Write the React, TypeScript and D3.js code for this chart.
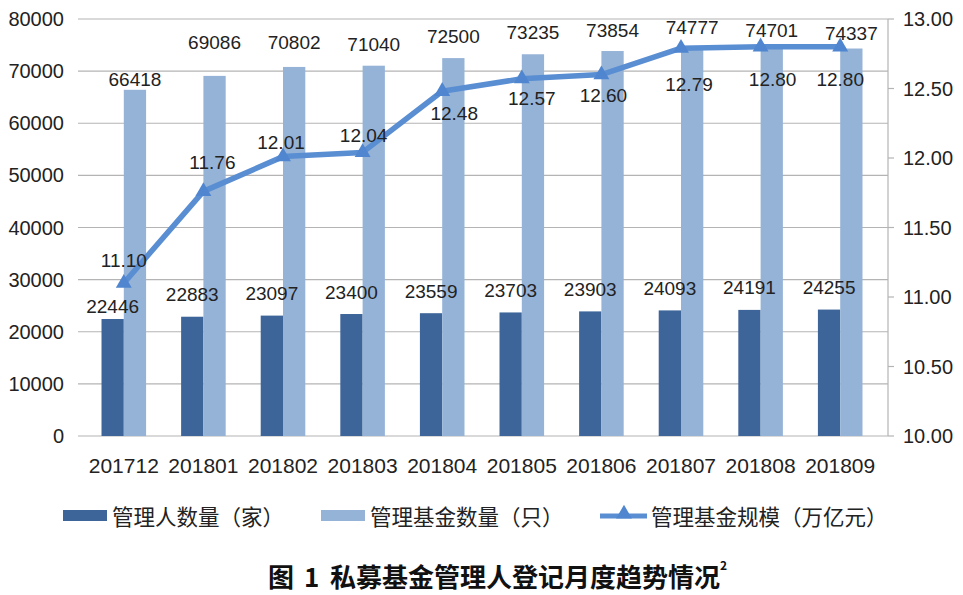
import React from "react";
import * as d3 from "d3";

const categories = ["201712", "201801", "201802", "201803", "201804", "201805", "201806", "201807", "201808", "201809"];
const managers = [22446, 22883, 23097, 23400, 23559, 23703, 23903, 24093, 24191, 24255];
const funds = [66418, 69086, 70802, 71040, 72500, 73235, 73854, 74777, 74701, 74337];
const scale = [11.1, 11.76, 12.01, 12.04, 12.48, 12.57, 12.6, 12.79, 12.8, 12.8];
const leftTicks = [0, 10000, 20000, 30000, 40000, 50000, 60000, 70000, 80000];
const rightTicks = [10, 10.5, 11, 11.5, 12, 12.5, 13];
const legendLabels = ["管理人数量（家）", "管理基金数量（只）", "管理基金规模（万亿元）"];
const titleParts = ["图", "1", "私募基金管理人登记月度趋势情况"];

// label placement (style only)
const darkLabelDy = [-13, -22, -22, -22, -22, -22, -22, -22, -22, -22];
const lightLabelDy = [-10, -33, -24, -21, -22, -22, -21, -19, -16, -15];
const lineLabelDx = [0, 9, -2, 1, 12, 10, 2, 8, 12, 0];
const lineLabelDy = [-23, -29, -14, -17, 22, 20, 21, 36, 33, 33];

const DARK = "#3d6599";
const LIGHT = "#95b3d7";
const LINE = "#5a8ed3";
const GRID = "#b4b4b4";
const NUM_FONT = "'Liberation Sans', Arial, sans-serif";
const CJK_FONT = "'Noto Sans CJK SC', sans-serif";

export default function App() {
  const W = 963, H = 595;
  const top = 19, bottom = 436;
  const x = d3.scaleBand<string>().domain(categories).range([84, 880]).padding(0);
  const yL = d3.scaleLinear().domain([0, 80000]).range([bottom, top]);
  const yR = d3.scaleLinear().domain([10, 13]).range([bottom, top]);
  const bw = x.bandwidth() * 0.28;
  const cx = (c: string) => (x(c) as number) + x.bandwidth() / 2;

  const line = d3.line<number>().x((_, i) => cx(categories[i])).y((d) => yR(d));
  const tri = d3.symbol().type(d3.symbolTriangle).size(110)();

  return (
    <svg width={W} height={H} style={{ display: "block", position: "absolute", left: 0, top: 0, background: "#fff" }}>
      <rect x={0} y={0} width={W} height={H} fill="#fff" />
      {leftTicks.map((t) => (
        <line key={t} x1={78} x2={888} y1={yL(t)} y2={yL(t)} stroke={GRID} strokeWidth={1.2} />
      ))}
      <line x1={888} x2={888} y1={top} y2={bottom} stroke={GRID} strokeWidth={1.2} />
      {rightTicks.map((t) => (
        <line key={"rt" + t} x1={888} x2={894} y1={yR(t)} y2={yR(t)} stroke={GRID} strokeWidth={1.2} />
      ))}
      {leftTicks.map((t) => (
        <text key={"l" + t} x={64} y={yL(t)} textAnchor="end" dominantBaseline="central" fontFamily={NUM_FONT} fontSize={20} fill="#222">
          {t}
        </text>
      ))}
      {rightTicks.map((t) => (
        <text key={"r" + t} x={903} y={yR(t)} textAnchor="start" dominantBaseline="central" fontFamily={NUM_FONT} fontSize={20} fill="#222">
          {d3.format(".2f")(t)}
        </text>
      ))}
      {categories.map((c, i) => (
        <g key={c}>
          <rect x={cx(c) - bw} y={yL(managers[i])} width={bw} height={bottom - yL(managers[i])} fill={DARK} />
          <rect x={cx(c)} y={yL(funds[i])} width={bw} height={bottom - yL(funds[i])} fill={LIGHT} />
        </g>
      ))}
      {categories.map((c, i) => (
        <g key={"bl" + c} fontFamily={NUM_FONT} fontSize={19} fill="#222" textAnchor="middle">
          <text x={cx(c) - bw / 2} y={yL(managers[i]) + darkLabelDy[i]} dominantBaseline="central">{managers[i]}</text>
          <text x={cx(c) + bw / 2} y={yL(funds[i]) + lightLabelDy[i]} dominantBaseline="central">{funds[i]}</text>
        </g>
      ))}
      <path d={line(scale) || ""} fill="none" stroke={LINE} strokeWidth={5.5} strokeLinejoin="round" />
      {scale.map((v, i) => (
        <path key={"m" + i} d={tri || ""} transform={`translate(${cx(categories[i])},${yR(v)})`} fill="#4f86cf" />
      ))}
      {scale.map((v, i) => (
        <text key={"ll" + i} x={cx(categories[i]) + lineLabelDx[i]} y={yR(v) + lineLabelDy[i]} textAnchor="middle" dominantBaseline="central" fontFamily={NUM_FONT} fontSize={19} fill="#222">
          {d3.format(".2f")(v)}
        </text>
      ))}
      {categories.map((c) => (
        <text key={"x" + c} x={cx(c)} y={465} textAnchor="middle" dominantBaseline="central" fontFamily={NUM_FONT} fontSize={21} fill="#222">
          {c}
        </text>
      ))}
      <rect x={63} y={510} width={44} height={11} fill={DARK} />
      <text x={112} y={515} dominantBaseline="central" fontFamily={CJK_FONT} fontSize={21.5} fill="#222">{legendLabels[0]}</text>
      <rect x={321} y={510} width={44} height={11} fill={LIGHT} />
      <text x={370} y={515} dominantBaseline="central" fontFamily={CJK_FONT} fontSize={21.5} fill="#222">{legendLabels[1]}</text>
      <line x1={600} x2={647} y1={516} y2={516} stroke={LINE} strokeWidth={5} />
      <path d={tri || ""} transform="translate(624,514)" fill="#4f86cf" />
      <text x={651} y={515} dominantBaseline="central" fontFamily={CJK_FONT} fontSize={21.5} fill="#222">{legendLabels[2]}</text>
      <g fontFamily={CJK_FONT} fontWeight={700} fontSize={26} fill="#111">
        <text x={268} y={575} dominantBaseline="central">{titleParts[0]}</text>
        <text x={304} y={575} dominantBaseline="central">{titleParts[1]}</text>
        <text x={330} y={575} dominantBaseline="central">
          {titleParts[2]}
          <tspan fontSize={12} dy={-11}>2</tspan>
        </text>
      </g>
    </svg>
  );
}
